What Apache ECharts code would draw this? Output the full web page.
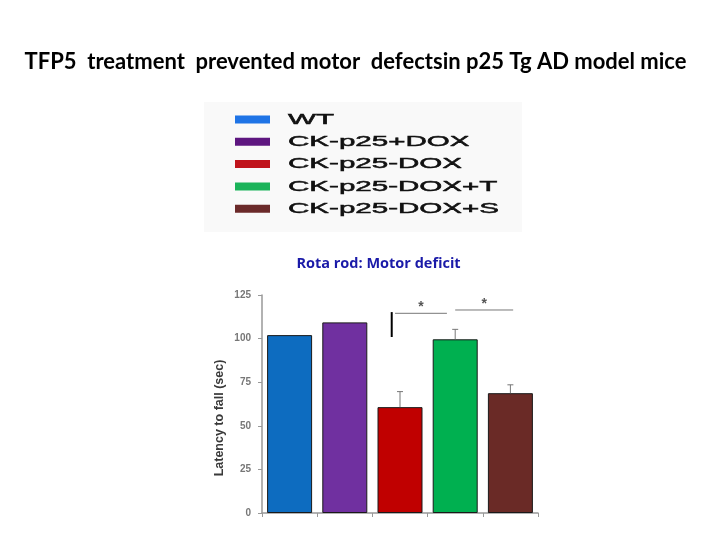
<!DOCTYPE html>
<html>
<head>
<meta charset="utf-8">
<script src="https://cdn.jsdelivr.net/npm/echarts@6/dist/echarts.min.js"></script>
<style>html,body{margin:0;padding:0;background:#fff}#c{width:720px;height:540px}</style>
</head>
<body>
<div id="c"></div>
<script>
// ---- data ----
var titleText = 'TFP5  treatment  prevented motor  defectsin p25 Tg AD model mice';
var subtitleText = 'Rota rod: Motor deficit';
var yAxisName = 'Latency to fall (sec)';
var categories = ['WT', 'CK-p25+DOX', 'CK-p25-DOX', 'CK-p25-DOX+T', 'CK-p25-DOX+S'];
var latency = [102, 109.3, 60.7, 99.6, 68.7];
var errorTop = [null, null, 69.6, 105.3, 73.5];
var yTicks = [0, 25, 50, 75, 100, 125];
// significance brackets: [xStart, xEnd, yLevel] in category-index / value units
var sigBrackets = [[1.91, 2.85, 114.5], [3.0, 4.05, 116.4]];
var sigMarks = ['*', '*'];

// ---- style ----
var barColors = ['#0d6cc0', '#7030a0', '#c00000', '#00b050', '#6a2a26'];
var legendColors = ['#1f74e6', '#5e1680', '#c0141c', '#1bb35a', '#6b2a2a'];

var chart = echarts.init(document.getElementById('c'), null, {renderer: 'canvas'});

var graphics = [];
graphics.push({type: 'rect', left: 204, top: 102, shape: {width: 318, height: 130}, style: {fill: '#f9f9f9'}, z: -1});
graphics.push({type: 'text', x: 355.5, y: 62, style: {text: titleText, textAlign: 'center', textVerticalAlign: 'middle', font: 'bold 22px Lato, "Liberation Sans", sans-serif', fill: '#000'}});
graphics.push({type: 'text', x: 378.5, y: 264, style: {text: subtitleText, textAlign: 'center', textVerticalAlign: 'middle', font: 'bold 14.5px "Open Sans", "DejaVu Sans", sans-serif', fill: '#1a1aa8'}});
categories.forEach(function (name, i) {
  var yc = 119.5 + i * 22.3;
  graphics.push({type: 'rect', shape: {x: 235, y: yc - 4, width: 35, height: 8}, style: {fill: legendColors[i]}});
  graphics.push({type: 'text', x: 288, y: yc, scaleX: 1.97, style: {text: name, x: 0, y: 0, textAlign: 'left', textVerticalAlign: 'middle', font: '15px "Liberation Sans", Arial, sans-serif', fill: '#111', stroke: '#111', lineWidth: 0.5}});
});
graphics.push({type: 'text', x: 220, y: 418, rotation: Math.PI / 2, style: {text: yAxisName, textAlign: 'center', textVerticalAlign: 'middle', font: 'bold 12.5px "Liberation Sans", Arial, sans-serif', fill: '#3a3a3a'}});

var option = {
  animation: false,
  backgroundColor: '#fff',
  graphic: graphics,
  grid: {left: 262, right: 182, top: 295, bottom: 27, containLabel: false},
  xAxis: [
    {type: 'category', data: categories,
     axisLine: {show: true, onZero: false, lineStyle: {color: '#999', width: 1.5}},
     axisTick: {show: true, interval: 0, length: 4, lineStyle: {color: '#999'}},
     axisLabel: {show: false}, splitLine: {show: false}},
    {type: 'value', min: -0.5, max: 4.5, show: false}
  ],
  yAxis: {
    type: 'value', min: yTicks[0], max: yTicks[yTicks.length - 1], interval: 25,
    axisLine: {show: true, onZero: false, lineStyle: {color: '#999', width: 1.5}},
    axisTick: {show: true, length: 4, lineStyle: {color: '#999'}},
    axisLabel: {margin: 11, color: '#777', fontSize: 10, fontFamily: 'Liberation Sans', fontWeight: 'bold'},
    splitLine: {show: false}
  },
  series: [
    {
      type: 'bar', barWidth: 45,
      data: latency.map(function (v, i) {
        return {value: v, itemStyle: {color: barColors[i], borderColor: '#1a1a1a', borderWidth: 1}};
      })
    },
    {
      type: 'custom', xAxisIndex: 1, z: 3,
      data: errorTop.map(function (t, i) { return t == null ? null : [i, latency[i], t]; }).filter(function (d) { return d; }),
      renderItem: function (params, api) {
        var p0 = api.coord([api.value(0), api.value(1)]);
        var p1 = api.coord([api.value(0), api.value(2)]);
        return {type: 'group', children: [
          {type: 'line', shape: {x1: p0[0], y1: p0[1], x2: p1[0], y2: p1[1]}, style: {stroke: '#777', lineWidth: 1}},
          {type: 'line', shape: {x1: p1[0] - 3, y1: p1[1], x2: p1[0] + 3, y2: p1[1]}, style: {stroke: '#777', lineWidth: 1}}
        ]};
      }
    },
    {
      type: 'custom', xAxisIndex: 1, z: 3,
      data: sigBrackets.map(function (b, i) { return [b[0], b[1], b[2], i]; }),
      renderItem: function (params, api) {
        var a = api.coord([api.value(0), api.value(2)]);
        var b = api.coord([api.value(1), api.value(2)]);
        var children = [
          {type: 'line', shape: {x1: a[0], y1: a[1], x2: b[0], y2: b[1]}, style: {stroke: '#777', lineWidth: 1}},
          {type: 'text', x: (a[0] + b[0]) / 2, y: a[1] - 6, style: {text: sigMarks[api.value(3)], textAlign: 'center', textVerticalAlign: 'middle', font: 'bold 14px "Liberation Sans", sans-serif', fill: '#555'}}
        ];
        if (params.dataIndex === 0) {
          var t0 = api.coord([1.85, 115.2]);
          var t1 = api.coord([1.85, 100.9]);
          children.push({type: 'line', shape: {x1: t0[0], y1: t0[1], x2: t1[0], y2: t1[1]}, style: {stroke: '#000', lineWidth: 2}});
        }
        return {type: 'group', children: children};
      }
    }
  ]
};
chart.setOption(option);
</script>
</body>
</html>
